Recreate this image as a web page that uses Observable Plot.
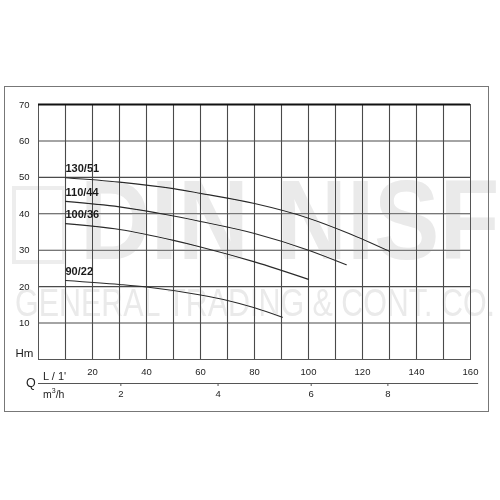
<!DOCTYPE html>
<html>
<head>
<meta charset="utf-8">
<script src="https://cdn.jsdelivr.net/npm/d3@7"></script>
<script src="https://cdn.jsdelivr.net/npm/@observablehq/plot@0.6"></script>
<style>
  html, body { margin: 0; padding: 0; background: #fff; }
  #wrap { position: relative; width: 500px; height: 500px; overflow: hidden; font-family: "Liberation Sans", Arial, sans-serif; }
  #box { position: absolute; left: 4px; top: 86px; width: 485px; height: 326px; border: 1.3px solid #777; box-sizing: border-box; }
  .wm { position: absolute; color: #eaeaea; font-weight: bold; white-space: nowrap; mix-blend-mode: darken; pointer-events: none; z-index: 2; transform-origin: 0 0; }
  #wm1 { left: 80px; top: 163px; font-size: 114px; line-height: 1; transform: scaleX(0.86); }
  #wm2 { left: 15px; top: 283px; font-size: 39px; font-weight: normal; line-height: 1; transform: scaleX(0.78); }
  #logo { position: absolute; left: 12px; top: 186px; width: 54px; height: 78px; border: 4px solid #ededed; box-sizing: border-box; mix-blend-mode: darken; z-index: 2; }
  .lab { position: absolute; color: #222; white-space: nowrap; line-height: 1; }
  #chart { position: absolute; left: 0; top: 0; z-index: 1; }
</style>
</head>
<body>
<div id="wrap">
  <div id="box"></div>
  <div id="chart"></div>
  <div id="logo"></div>
  <div class="wm" id="wm1">DIN NISF</div>
  <div class="wm" id="wm2">GENERAL TRADING &amp; CONT. CO.</div>
  <div class="lab" style="left:26px; top:377px; font-size:12.5px;">Q</div>
  <div class="lab" style="left:43px; top:371px; font-size:11px;">L / 1'</div>
  <div class="lab" style="left:43px; top:387px; font-size:10.5px;">m<sup style="font-size:7px">3</sup>/h</div>
</div>
<script>
// Tick values
const xTicks = [20, 40, 60, 80, 100, 120, 140, 160];
const xGrid = [10, 20, 30, 40, 50, 60, 70, 80, 90, 100, 110, 120, 130, 140, 150];
const yTicks = [10, 20, 30, 40, 50, 60, 70];
const yGrid = [10, 20, 30, 40, 50, 60];
// Secondary flow axis (m3/h), positions in L/min units
const m3Labels = ["2", "4", "6", "8"];
const m3Pos = [30.5, 66.5, 101, 129.4];

// Pump curves: Q (L/min) and H (m)
const models = ["130/51", "110/44", "100/36", "90/22"];
const q130 = [10, 30, 50, 60, 80, 100, 115, 130];
const h130 = [49.9, 48.7, 46.9, 45.6, 42.8, 38.8, 34.6, 29.7];
const q110 = [10, 30, 50, 60, 80, 100, 114];
const h110 = [43.4, 41.9, 39.4, 37.9, 34.6, 30.0, 26.0];
const q100 = [10, 30, 50, 60, 80, 100];
const h100 = [37.3, 35.7, 32.7, 30.9, 26.8, 22.0];
const q90 = [10, 30, 40, 60, 70, 80, 90.3];
const h90 = [21.7, 20.6, 19.9, 17.7, 16.2, 14.2, 11.6];

const series = [[q130, h130], [q110, h110], [q100, h100], [q90, h90]];
const rows = [];
series.forEach(([qs, hs], k) => qs.forEach((q, i) => rows.push({model: models[k], q, h: hs[i]})));
const starts = series.map(([qs, hs], k) => ({model: models[k], q: qs[0], h: hs[0]}));

const gridColor = "#4a4a4a";
const plot = Plot.plot({
  width: 500,
  height: 500,
  marginLeft: 38,
  marginRight: 30,
  marginTop: 104,
  marginBottom: 141,
  style: {background: "transparent", fontFamily: "Liberation Sans, Arial, sans-serif", color: "#222"},
  x: {domain: [0, 160]},
  y: {domain: [0, 70]},
  marks: [
    Plot.gridX(xGrid, {stroke: gridColor, strokeOpacity: 1, strokeWidth: 1.1}),
    Plot.gridY(yGrid, {stroke: gridColor, strokeOpacity: 1, strokeWidth: 1.1}),
    Plot.frame({stroke: "#555", strokeWidth: 1}),
    Plot.ruleY([70], {stroke: "#111", strokeWidth: 1.8}),
    Plot.axisX(xTicks, {anchor: "bottom", tickSize: 0, tickPadding: 9, fontSize: 9.5, label: null}),
    Plot.axisY(yTicks, {anchor: "left", tickSize: 0, tickPadding: 9, fontSize: 9.5, label: null}),
    Plot.text(["Hm"], {frameAnchor: "bottom-left", dx: -23, dy: -3, fontSize: 11.5, textAnchor: "start", fill: "#222"}),
    Plot.ruleY([0], {x1: 0, x2: 163, dy: 24, stroke: "#555", strokeWidth: 1}),
    Plot.axisX(m3Pos, {anchor: "bottom", dy: 24, tickSize: 3, tickPadding: 4, fontSize: 9.5, stroke: "#555",
      tickFormat: d => m3Labels[m3Pos.indexOf(d)], label: null}),
    Plot.line(rows, {x: "q", y: "h", z: "model", curve: "monotone-x", stroke: "#2a2a2a", strokeWidth: 1.1}),
    Plot.text(starts, {x: "q", y: "h", text: "model", dy: -9, textAnchor: "start", fontSize: 11, fontWeight: "bold", fill: "#1a1a1a"})
  ]
});
document.getElementById("chart").appendChild(plot);
</script>
</body>
</html>
